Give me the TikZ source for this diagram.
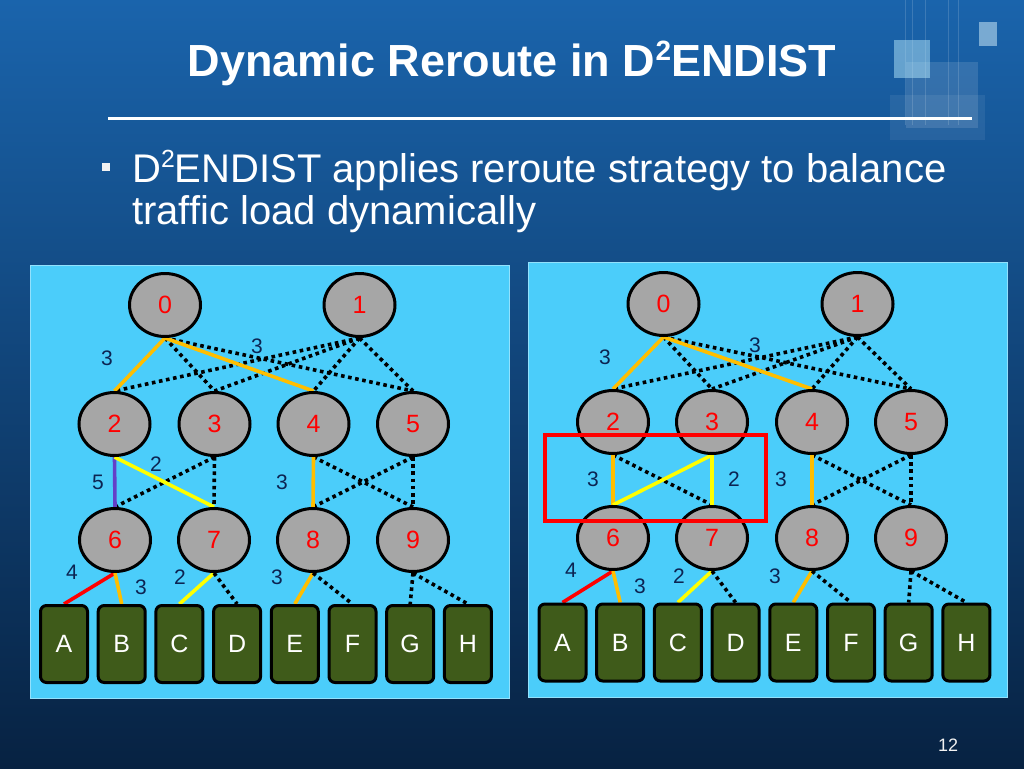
\documentclass[tikz,border=0pt]{standalone}
\usepackage{fontspec}
\setmainfont{Liberation Sans}
\usetikzlibrary{shapes.geometric}
\pgfdeclarelayer{bg}
\pgfdeclarelayer{edges}
\pgfsetlayers{bg,edges,main}
\definecolor{bgtop}{RGB}{26,100,172}
\definecolor{bgmid}{RGB}{13,58,110}
\definecolor{bgbot}{RGB}{7,34,66}
\definecolor{panelblue}{RGB}{75,205,250}
\definecolor{nodegray}{RGB}{166,166,166}
\definecolor{hostgreen}{RGB}{63,91,26}
\definecolor{goldline}{RGB}{255,190,0}
\definecolor{yelline}{RGB}{255,255,0}
\definecolor{purpline}{RGB}{100,64,200}
\definecolor{labelnavy}{RGB}{12,36,82}
\newcommand{\supii}{\raisebox{0.36em}{\fontsize{0.62em}{0.62em}\selectfont 2}}
\tikzset{
  sw/.style={ellipse, draw=black, line width=3pt, fill=nodegray, minimum width=71pt, minimum height=63pt, inner sep=0pt, text=red, font=\fontsize{25}{25}\selectfont},
  host/.style={rectangle, rounded corners=6pt, draw=black, line width=3pt, fill=hostgreen, minimum width=47pt, minimum height=77pt, inner sep=0pt, text=white, font=\fontsize{25}{25}\selectfont},
  dotline/.style={line width=3.6pt, dash pattern=on 3.6pt off 3.6pt, draw=black},
  goldl/.style={line width=3.6pt, draw=goldline},
  yell/.style={line width=3.6pt, draw=yelline},
  redl/.style={line width=3.6pt, draw=red},
  purpl/.style={line width=3.6pt, draw=purpline},
  lbl/.style={text=labelnavy, font=\fontsize{21}{21}\selectfont, inner sep=0pt},
  panel/.style={fill=panelblue, draw=panelblue!60!white, line width=1pt},
}
\begin{document}
\begin{tikzpicture}[x=1pt,y=-1pt]
\useasboundingbox (0,0) rectangle (1024,768);
% background
\begin{pgfonlayer}{bg}
\shade[top color=bgtop, middle color=bgmid, bottom color=bgbot] (0,0) rectangle (1024,768);
\foreach \xx in {905,912,925,948,958} {\draw[white, opacity=0.15, line width=0.8pt] (\xx,0) -- (\xx,125);}
\fill[white, opacity=0.07] (890,95) rectangle (985,140);
\fill[white, opacity=0.12] (906,62) rectangle (978,128);
\fill[cyan!30!white, opacity=0.5] (894,40) rectangle (930,78);
\fill[cyan!15!white, opacity=0.5] (979,22) rectangle (997,46);
% panels
\draw[panel] (30,265) rectangle (509,698);
\draw[panel] (528,262) rectangle (1007,697);
\end{pgfonlayer}

% title
\node[anchor=base, text=white, font=\fontsize{45}{45}\selectfont\bfseries] (title) at (512,77) {Dynamic Reroute in D\supii ENDIST};
\draw[white, line width=3pt] (108,118.5) -- (972,118.5);
\fill[white!90!gray] (102,163) rectangle (110,171);
\node[anchor=base west, text=white, font=\fontsize{40}{40}\selectfont, inner sep=0pt] (line1) at (132,182) {D\supii ENDIST applies reroute strategy to balance};
\node[anchor=base west, text=white, font=\fontsize{40}{40}\selectfont, inner sep=0pt] (line2) at (132,224) {traffic load dynamically};
\node[text=white!90!gray, font=\fontsize{18}{18}\selectfont] (pagenum) at (948,745) {12};

% ---------- left panel ----------
\node[sw] (L0) at (165,305) {0};
\node[sw] (L1) at (359.5,305) {1};
\node[sw] (L2) at (114.5,424) {2};
\node[sw] (L3) at (214.5,424) {3};
\node[sw] (L4) at (313.5,424) {4};
\node[sw] (L5) at (413,424) {5};
\node[sw] (L6) at (115,540) {6};
\node[sw] (L7) at (214,540) {7};
\node[sw] (L8) at (313,540) {8};
\node[sw] (L9) at (413,540) {9};
\node[host] (LA) at (64,644) {A};
\node[host] (LB) at (121.7,644) {B};
\node[host] (LC) at (179.4,644) {C};
\node[host] (LD) at (237.1,644) {D};
\node[host] (LE) at (294.8,644) {E};
\node[host] (LF) at (352.5,644) {F};
\node[host] (LG) at (410.2,644) {G};
\node[host] (LH) at (467.9,644) {H};

\begin{pgfonlayer}{edges}
\draw[dotline] (L0.south) -- (L3.north);
\draw[dotline] (L0.south) -- (L5.north);
\draw[dotline] (L1.south) -- (L2.north);
\draw[dotline] (L1.south) -- (L3.north);
\draw[dotline] (L1.south) -- (L4.north);
\draw[dotline] (L1.south) -- (L5.north);
\draw[goldl] (L0.south) -- (L2.north);
\draw[goldl] (L0.south) -- (L4.north);
\draw[dotline] (L3.south) -- (L6.north);
\draw[dotline] (L3.south) -- (L7.north);
\draw[dotline] (L4.south) -- (L9.north);
\draw[dotline] (L5.south) -- (L8.north);
\draw[dotline] (L5.south) -- (L9.north);
\draw[purpl] (L2.south) -- (L6.north);
\draw[yell] (L2.south) -- (L7.north);
\draw[goldl] (L4.south) -- (L8.north);
\draw[redl] (L6.south) -- (LA.north);
\draw[goldl] (L6.south) -- (LB.north);
\draw[yell] (L7.south) -- (LC.north);
\draw[dotline] (L7.south) -- (LD.north);
\draw[goldl] (L8.south) -- (LE.north);
\draw[dotline] (L8.south) -- (LF.north);
\draw[dotline] (L9.south) -- (LG.north);
\draw[dotline] (L9.south) -- (LH.north);
\end{pgfonlayer}
\node[lbl] (Ll1) at (107,358) {3};
\node[lbl] (Ll2) at (257,346) {3};
\node[lbl] (Ll3) at (98,482) {5};
\node[lbl] (Ll4) at (156,464) {2};
\node[lbl] (Ll5) at (282,482) {3};
\node[lbl] (Ll6) at (72,572) {4};
\node[lbl] (Ll7) at (141,587) {3};
\node[lbl] (Ll8) at (180,577) {2};
\node[lbl] (Ll9) at (277,577) {3};

% ---------- right panel ----------
\node[sw] (R0) at (663.5,304) {0};
\node[sw] (R1) at (857.5,304) {1};
\node[sw] (R2) at (613,422) {2};
\node[sw] (R3) at (712,422) {3};
\node[sw] (R4) at (812,422) {4};
\node[sw] (R5) at (911,422) {5};
\node[sw] (R6) at (613,538) {6};
\node[sw] (R7) at (712,538) {7};
\node[sw] (R8) at (812,538) {8};
\node[sw] (R9) at (911,538) {9};
\node[host] (RA) at (562.5,642.5) {A};
\node[host] (RB) at (620.2,642.5) {B};
\node[host] (RC) at (677.9,642.5) {C};
\node[host] (RD) at (735.6,642.5) {D};
\node[host] (RE) at (793.3,642.5) {E};
\node[host] (RF) at (851.0,642.5) {F};
\node[host] (RG) at (908.7,642.5) {G};
\node[host] (RH) at (966.4,642.5) {H};

\begin{pgfonlayer}{edges}
\draw[dotline] (R0.south) -- (R3.north);
\draw[dotline] (R0.south) -- (R5.north);
\draw[dotline] (R1.south) -- (R2.north);
\draw[dotline] (R1.south) -- (R3.north);
\draw[dotline] (R1.south) -- (R4.north);
\draw[dotline] (R1.south) -- (R5.north);
\draw[goldl] (R0.south) -- (R2.north);
\draw[goldl] (R0.south) -- (R4.north);
\draw[dotline] (R2.south) -- (R7.north);
\draw[dotline] (R4.south) -- (R9.north);
\draw[dotline] (R5.south) -- (R8.north);
\draw[dotline] (R5.south) -- (R9.north);
\draw[goldl] (R2.south) -- (R6.north);
\draw[yell] (R3.south) -- (R6.north);
\draw[yell] (R3.south) -- (R7.north);
\draw[goldl] (R4.south) -- (R8.north);
\draw[redl] (R6.south) -- (RA.north);
\draw[goldl] (R6.south) -- (RB.north);
\draw[yell] (R7.south) -- (RC.north);
\draw[dotline] (R7.south) -- (RD.north);
\draw[goldl] (R8.south) -- (RE.north);
\draw[dotline] (R8.south) -- (RF.north);
\draw[dotline] (R9.south) -- (RG.north);
\draw[dotline] (R9.south) -- (RH.north);
\end{pgfonlayer}
\node[lbl] (Rl1) at (605,357) {3};
\node[lbl] (Rl2) at (755,345) {3};
\node[lbl] (Rl3) at (593,479) {3};
\node[lbl] (Rl4) at (734,479) {2};
\node[lbl] (Rl5) at (781,479) {3};
\node[lbl] (Rl6) at (571,570) {4};
\node[lbl] (Rl7) at (640,586) {3};
\node[lbl] (Rl8) at (679,576) {2};
\node[lbl] (Rl9) at (775,576) {3};

% highlight box
\draw[red, line width=4pt] (545,435) rectangle (766,521);
\end{tikzpicture}
\end{document}
